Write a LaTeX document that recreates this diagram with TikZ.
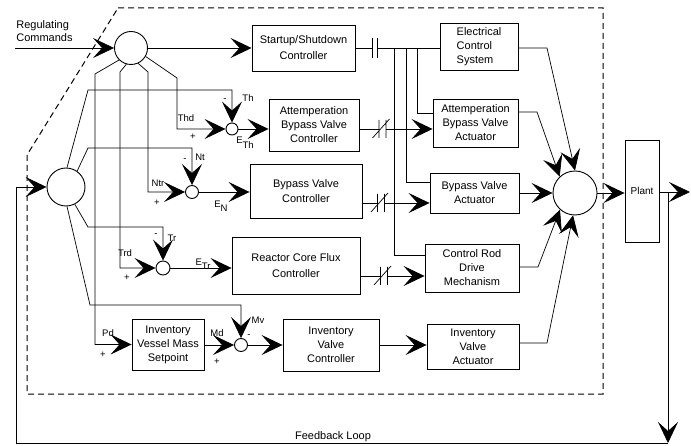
\documentclass[tikz,border=0pt]{standalone}
\usepackage{fontspec}
\setmainfont{Liberation Sans}
\usetikzlibrary{arrows.meta,calc}
\tikzset{
  capsym/.pic={\draw (-2.5,-10) -- (-2.5,10) (2.5,-10) -- (2.5,10);},
  xcapsym/.pic={\draw (-3.5,-9) -- (-3.5,9) (3.5,-9) -- (3.5,9) (-10,9) -- (7,-10);}
}
\begin{document}
\begin{tikzpicture}[x=1pt,y=-1pt,line width=0.7pt,
  box/.style={draw,line width=0.9pt,align=center,inner sep=1pt,font=\fontsize{11}{14}\selectfont},
  circ/.style={draw,circle,line width=0.9pt,inner sep=0pt},
  lbl/.style={font=\fontsize{9.5}{11}\selectfont,inner sep=0pt},
  arw/.style={-{Stealth[length=21pt,width=20pt,inset=9pt]}},
  border/.style={dash pattern=on 6pt off 4pt,line width=1pt}]
\useasboundingbox (0,0) rectangle (691,446);
% dashed boundary
\draw[border] (118,8) -- (603,8) -- (603,394) -- (27,394) -- (27,155) -- cycle;
% circles
\node[circ,minimum size=33pt] (c1) at (131,48) {};
\node[circ,minimum size=38pt] (c2) at (66,187) {};
\node[circ,minimum size=44pt] (c3) at (575,193) {};
\node[circ,minimum size=12pt] (jth) at (232,129) {};
\node[circ,minimum size=13pt] (jn) at (192,192) {};
\node[circ,minimum size=14pt] (jtr) at (163,268) {};
\node[circ,minimum size=13pt] (jmv) at (241,345) {};
% boxes
\node[box,minimum width=103pt,minimum height=46pt] (ss) at (303.5,48) {Startup/Shutdown\\[2pt]Controller};
\node[box,minimum width=78pt,minimum height=47pt,align=left] (ecs) at (479,47) {Electrical\\Control\\System};
\node[box,minimum width=90pt,minimum height=52pt] (abc) at (314,125) {Attemperation\\Bypass Valve\\Controller};
\node[box,minimum width=85pt,minimum height=48pt] (aba) at (475.5,123) {Attemperation\\Bypass Valve\\Actuator};
\node[box,minimum width=112pt,minimum height=54pt] (bvc) at (306,191) {Bypass Valve\\[1pt]Controller};
\node[box,minimum width=89pt,minimum height=40pt] (bva) at (474.5,193) {Bypass Valve\\Actuator};
\node[box,minimum width=128pt,minimum height=57pt] (rcf) at (296,265.5) {Reactor Core Flux\\[2pt]Controller};
\node[box,minimum width=94pt,minimum height=48pt] (crd) at (472,268) {Control Rod\\Drive\\Mechanism};
\node[box,minimum width=72pt,minimum height=51pt] (ivm) at (168,344.5) {Inventory\\Vessel Mass\\Setpoint};
\node[box,minimum width=96pt,minimum height=52pt] (ivc) at (331,345) {Inventory\\Valve\\Controller};
\node[box,minimum width=92pt,minimum height=45pt] (iva) at (473,346.5) {Inventory\\Valve\\Actuator};
\node[box,minimum width=34pt,minimum height=102pt,font=\fontsize{10}{12}\selectfont] (plant) at (642,191) {Plant};
% coordinates
\coordinate (rin) at (15,48);
\coordinate (k0) at (374.5,48);
\coordinate (v1) at (417,48);
\coordinate (v2) at (406,48);
\coordinate (v3) at (394,48);
\coordinate (a1) at (417,113);
\coordinate (a2) at (406,182);
\coordinate (a3) at (394,255);
\coordinate (k1) at (382.5,129);
\coordinate (k2) at (381,203);
\coordinate (k3) at (384,276);
\coordinate (e1) at (547,48);
\coordinate (e2) at (537,112);
\coordinate (e4) at (538,267);
\coordinate (e5) at (547,343);
\coordinate (pout) at (690,192);
\coordinate (fb1) at (668,192);
\coordinate (fb2) at (668,443);
\coordinate (fb3) at (16,443);
\coordinate (fb4) at (16,187);
\coordinate (p1) at (95,74);
\coordinate (p2) at (120,72);
\coordinate (p3) at (148,72);
\coordinate (p4) at (177,78);
\coordinate (q1) at (88,90);
\coordinate (q2) at (88,148);
\coordinate (q3) at (88,227);
\coordinate (q4) at (90,305);
% top path
\draw[arw] (rin) -- (c1.west);
\draw[arw] (c1.east) -- (ss.west);
\draw (ss.east) -- ([xshift=-2.5pt]k0);
\pic at (k0) {capsym};
\draw ([xshift=2.5pt]k0) -- (ecs.west |- k0);
\draw (v1) -- (a1) -- (a1 -| aba.west);
\draw (v2) -- (a2) -- (a2 -| bva.west);
\draw (v3) -- (a3) -- (a3 -| crd.west);
% c1 branches
\draw[arw] (c1.225) -- (p1) -- (p1 |- ivm.west) -- (ivm.west);
\draw[arw] (c1.254) -- (p2) -- (p2 |- jtr.west) -- (jtr.west);
\draw[arw] (c1.295) -- (p3) -- (p3 |- jn.west) -- (jn.west);
\draw[arw] (c1.330) -- (p4) -- (p4 |- jth.west) -- (jth.west);
% c2 branches
\draw[arw] (c2.87) -- (q1) -- (q1 -| jth.north) -- (jth.north);
\draw[arw] (c2.55) -- (q2) -- (q2 -| jn.north) -- (jn.north);
\draw[arw] (c2.297) -- (q3) -- (q3 -| jtr.north) -- (jtr.north);
\draw[arw] (c2.273) -- (q4) -- (q4 -| jmv.north) -- (jmv.north);
% junction outputs
\draw[arw] (jth.east) -- (jth.east -| abc.west);
\draw[arw] (jn.east) -- (jn.east -| bvc.west);
\draw[arw] (jtr.east) -- (jtr.east -| rcf.west);
\draw[arw] (jmv.west -| ivm.east) -- (jmv.west);
\draw[arw] (jmv.east) -- (jmv.east -| ivc.west);
\draw[arw] (ivc.east) -- (ivc.east -| iva.west);
% controllers to actuators
\draw (k1 -| abc.east) -- ([xshift=-3.5pt]k1);
\pic at (k1) {xcapsym};
\draw[arw] ([xshift=3.5pt]k1) -- (k1 -| aba.west);
\draw (k2 -| bvc.east) -- ([xshift=-3.5pt]k2);
\pic at (k2) {xcapsym};
\draw[arw] ([xshift=3.5pt]k2) -- (k2 -| bva.west);
\draw (k3 -| rcf.east) -- ([xshift=-3.5pt]k3);
\pic at (k3) {xcapsym};
\draw[arw] ([xshift=3.5pt]k3) -- (k3 -| crd.west);
% actuators to summing circle
\draw[arw] (e1 -| ecs.east) -- (e1) -- (c3.north);
\draw[arw] (e2 -| aba.east) -- (e2) -- (c3.133);
\draw[arw] (c3.west -| bva.east) -- (c3.west);
\draw[arw] (e4 -| crd.east) -- (e4) -- (c3.228);
\draw[arw] (e5 -| iva.east) -- (e5) -- (c3.265);
% plant and feedback
\draw[arw] (c3.east) -- (c3.east -| plant.west);
\draw[arw] (plant.east |- pout) -- (pout);
\draw[arw] (fb1) -- (fb2);
\draw[arw] (fb2) -- (fb3) -- (fb4) -- (c2.west);
% labels
\node[font=\fontsize{11}{13}\selectfont,align=left,anchor=west,inner sep=0pt] (reg) at (16,31) {Regulating\\Commands};
\node[font=\fontsize{11}{13}\selectfont,inner sep=0pt] (fbl) at (333,437) {Feedback Loop};
\node[lbl] (l1) at (186,118) {Thd};
\node[lbl] (l2) at (193,137) {+};
\node[lbl] (l3) at (225,100) {-};
\node[lbl] (l4) at (248,98) {Th};
\node[lbl] (l5) at (245,143) {E\raisebox{-5pt}{Th}};
\node[lbl] (l6) at (158,183) {Ntr};
\node[lbl] (l7) at (157,203) {+};
\node[lbl] (l8) at (185,160) {-};
\node[lbl] (l9) at (200,157) {Nt};
\node[lbl] (l10) at (221,206) {E\raisebox{-4pt}{N}};
\node[lbl] (l11) at (125,253) {Trd};
\node[lbl] (l12) at (127,278) {+};
\node[lbl] (l13) at (156,235) {-};
\node[lbl] (l14) at (172,238) {Tr};
\node[lbl] (l15) at (203,264) {E\raisebox{-4pt}{Tr}};
\node[lbl] (l16) at (108,333) {Pd};
\node[lbl] (l17) at (103,355) {+};
\node[lbl] (l18) at (217,333) {Md};
\node[lbl] (l19) at (217,362) {+};
\node[lbl] (l20) at (258,320) {Mv};
\node[lbl] (l21) at (249,336) {-};
\end{tikzpicture}
\end{document}
